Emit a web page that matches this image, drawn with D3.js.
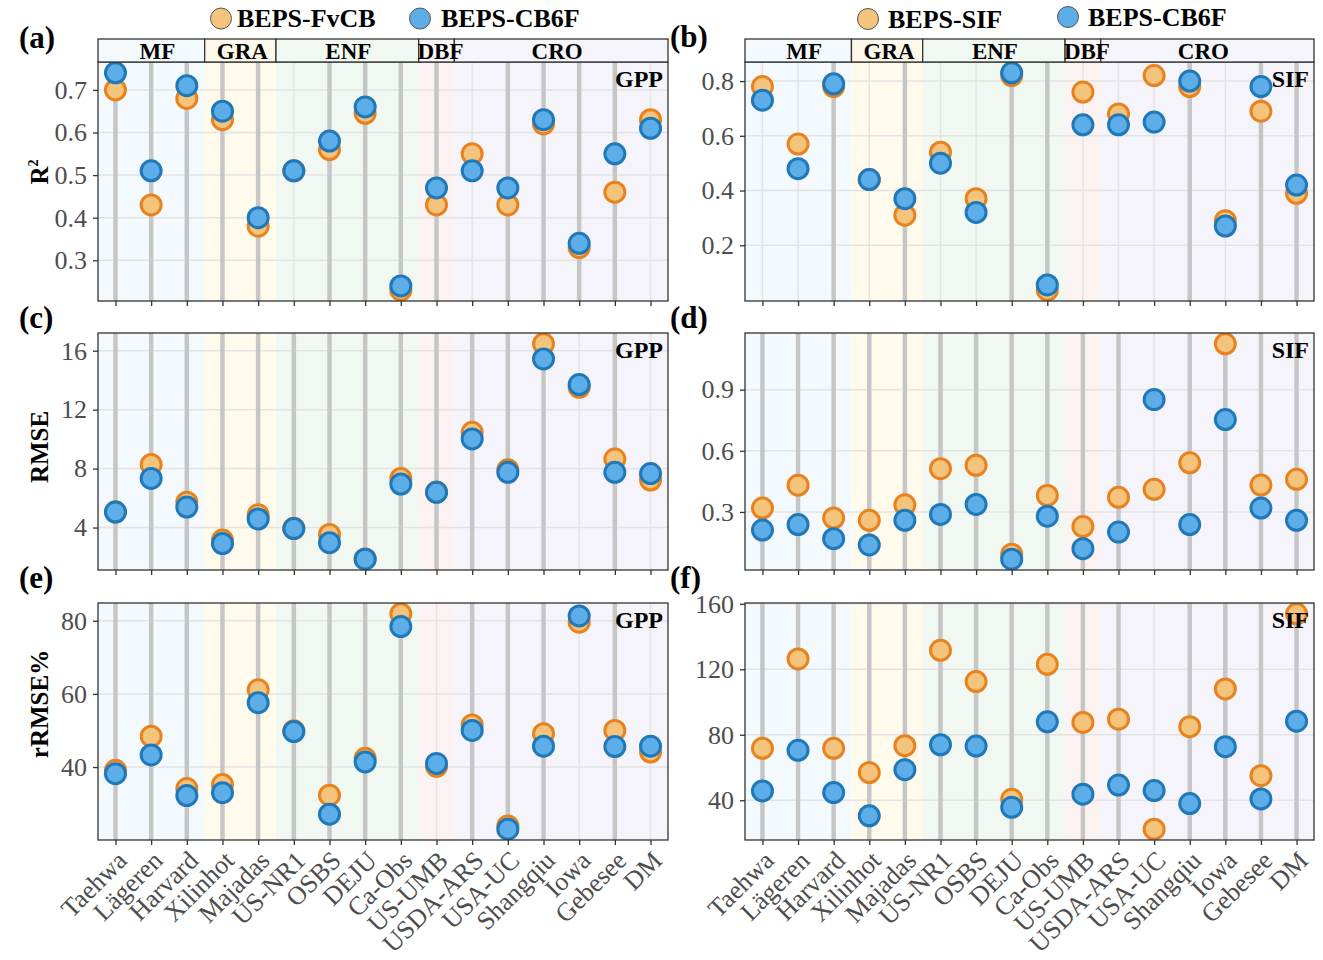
<!DOCTYPE html>
<html><head><meta charset="utf-8">
<script src="https://cdn.jsdelivr.net/npm/d3@7"></script>
<style>body{margin:0;background:#fff}</style>
</head><body>
<svg id="chart" width="1323" height="960"></svg>
<script>
// ---------------- DATA ----------------
const sites = ["Taehwa","Lägeren","Harvard","Xilinhot","Majadas","US-NR1","OSBS","DEJU","Ca-Obs","US-UMB","USDA-ARS","USA-UC","Shangqiu","Iowa","Gebesee","DM"];
const sitePFT = ["MF","MF","MF","GRA","GRA","ENF","ENF","ENF","ENF","DBF","CRO","CRO","CRO","CRO","CRO","CRO"];
const pftGroups = ["MF","GRA","ENF","DBF","CRO"];

// GPP (left column): BEPS-FvCB vs BEPS-CB6F
const gppR2_FvCB   = [0.70,0.43,0.68,0.63,0.38,0.51,0.56,0.645,0.23,0.43,0.55,0.43,0.62,0.33,0.46,0.63];
const gppR2_CB6F   = [0.74,0.51,0.71,0.65,0.40,0.51,0.58,0.66,0.24,0.47,0.51,0.47,0.63,0.34,0.55,0.61];
const gppRMSE_FvCB = [5.07,8.27,5.72,3.15,4.87,3.95,3.53,1.87,7.33,6.41,10.46,7.93,16.47,13.52,8.65,7.22];
const gppRMSE_CB6F = [5.05,7.33,5.39,2.91,4.58,3.93,2.97,1.85,6.95,6.39,10.01,7.75,15.44,13.70,7.75,7.66];
const gppRRMSE_FvCB = [39.1,48.4,34.1,35.2,61.1,49.9,32.3,42.4,81.9,40.2,51.5,23.9,49.1,79.6,50.0,44.1];
const gppRRMSE_CB6F = [38.2,43.3,32.2,33.0,57.6,49.7,27.1,41.4,78.4,41.0,50.0,23.0,45.7,81.3,45.6,45.7];

// SIF (right column): BEPS-SIF vs BEPS-CB6F
const sifR2_SIF    = [0.78,0.57,0.78,0.44,0.31,0.54,0.37,0.82,0.036,0.76,0.68,0.82,0.78,0.29,0.69,0.39];
const sifR2_CB6F   = [0.73,0.48,0.79,0.44,0.37,0.50,0.32,0.83,0.055,0.64,0.64,0.65,0.80,0.27,0.78,0.42];
const sifRMSE_SIF  = [0.319,0.431,0.27,0.259,0.335,0.512,0.529,0.093,0.381,0.228,0.372,0.411,0.541,1.125,0.432,0.46];
const sifRMSE_CB6F = [0.211,0.238,0.169,0.138,0.259,0.288,0.337,0.068,0.279,0.12,0.201,0.851,0.238,0.753,0.319,0.259];
const sifRRMSE_SIF  = [71.7,126.3,71.7,56.9,73.3,131.6,112.5,40.6,123.0,87.5,89.5,22.3,84.9,108.0,55.0,153.9];
const sifRRMSE_CB6F = [45.7,70.5,44.7,30.5,58.7,73.9,73.1,35.7,87.9,43.7,49.3,45.9,38.0,72.7,40.8,88.3];

// tick labels
const ticksGppR2 = [0.3,0.4,0.5,0.6,0.7];
const ticksSifR2 = [0.2,0.4,0.6,0.8];
const ticksGppRMSE = [4,8,12,16];
const ticksSifRMSE = [0.3,0.6,0.9];
const ticksGppRRMSE = [40,60,80];
const ticksSifRRMSE = [40,80,120,160];

const legendLeft = ["BEPS-FvCB","BEPS-CB6F"];
const legendRight = ["BEPS-SIF","BEPS-CB6F"];

// ---------------- STYLE ----------------
const FONT = '"Liberation Serif","Times New Roman",serif';
const bandFill  = {MF:"#f3f9fd",GRA:"#fffaeb",ENF:"#f1f8f1",DBF:"#fdf2f2",CRO:"#f6f4fb"};
const stripFill = {MF:"#f3f9fd",GRA:"#fdf8e9",ENF:"#f1f8f1",DBF:"#fcf6f6",CRO:"#f6f4fb"};
const stripShift = {MF:6,GRA:2,ENF:1,DBF:4,CRO:-4};
const ORANGE_FILL = "#f5c47c", ORANGE_STROKE = "#e8821e";
const BLUE_FILL = "#5dade8", BLUE_STROKE = "#1f78b8";

const svg = d3.select("#chart");
svg.append("rect").attr("width",1323).attr("height",960).attr("fill","#fff");

const COLS = [{x0:98,x1:668},{x0:745,x1:1314}];
const ROWS = [{y0:62,y1:301},{y0:333,y1:570},{y0:603,y1:840}];

function panel(cfg){
  const {x0,x1} = COLS[cfg.col];
  const {y0,y1} = ROWS[cfg.row];
  const x = d3.scalePoint().domain(sites).range([x0,x1]).padding(0.49);
  const all = cfg.base.concat(cfg.cb6f);
  const [mn,mx] = d3.extent(all);
  const pad = (mx-mn)*0.05;
  const y = d3.scaleLinear().domain([mn-pad, mx+pad]).range([y1,y0]);
  const step = x.step();
  const g = svg.append("g");

  g.append("rect").attr("x",x0).attr("y",y0).attr("width",x1-x0).attr("height",y1-y0).attr("fill","#fff");
  const groupExtent = p => {
    const s = sites.filter((d,i)=>sitePFT[i]===p);
    return [Math.max(x0, x(s[0])-step/2), Math.min(x1, x(s[s.length-1])+step/2)];
  };
  pftGroups.forEach(p=>{
    const [l,r] = groupExtent(p);
    g.append("rect").attr("x",l).attr("y",y0).attr("width",r-l).attr("height",y1-y0).attr("fill",bandFill[p]);
  });
  // grid
  cfg.ticks.forEach(t=>{
    g.append("line").attr("x1",x0).attr("x2",x1).attr("y1",y(t)).attr("y2",y(t))
      .attr("stroke","#e3e3e3").attr("stroke-width",1.5);
  });
  sites.forEach(s=>{
    g.append("line").attr("x1",x(s)).attr("x2",x(s)).attr("y1",y0).attr("y2",y1)
      .attr("stroke","#e3e3e3").attr("stroke-width",1.5);
  });
  // highlight lines where CB6F improves
  sites.forEach((s,i)=>{
    const better = cfg.higher ? cfg.cb6f[i] > cfg.base[i] : cfg.cb6f[i] < cfg.base[i];
    if(better){
      g.append("line").attr("x1",x(s)).attr("x2",x(s)).attr("y1",y0).attr("y2",y1)
        .attr("stroke","#c6c6c6").attr("stroke-width",4.5);
    }
  });
  // points
  const clipId = "clip"+cfg.row+"_"+cfg.col;
  svg.append("clipPath").attr("id",clipId).append("rect").attr("x",x0).attr("y",y0).attr("width",x1-x0).attr("height",y1-y0);
  const pg = g.append("g").attr("clip-path",`url(#${clipId})`);
  pg.selectAll("circle.base").data(cfg.base).join("circle").attr("class","base")
    .attr("cx",(d,i)=>x(sites[i])).attr("cy",d=>y(d)).attr("r",10)
    .attr("fill",ORANGE_FILL).attr("stroke",ORANGE_STROKE).attr("stroke-width",3);
  pg.selectAll("circle.cb").data(cfg.cb6f).join("circle").attr("class","cb")
    .attr("cx",(d,i)=>x(sites[i])).attr("cy",d=>y(d)).attr("r",10)
    .attr("fill",BLUE_FILL).attr("stroke",BLUE_STROKE).attr("stroke-width",3);
  // panel variable label
  g.append("text").attr("x",x1-5).attr("y",y0+25).attr("text-anchor","end")
    .attr("font-family",FONT).attr("font-weight","bold").attr("font-size",24).attr("fill","#000")
    .text(cfg.varLabel);
  // border
  g.append("rect").attr("x",x0).attr("y",y0).attr("width",x1-x0).attr("height",y1-y0)
    .attr("fill","none").attr("stroke","#333").attr("stroke-width",1.3);
  // y axis
  const ya = g.append("g").attr("transform",`translate(${x0},0)`)
    .call(d3.axisLeft(y).tickValues(cfg.ticks).tickFormat(cfg.fmt).tickSize(5).tickPadding(6));
  ya.select(".domain").remove();
  ya.selectAll("line").attr("stroke","#333").attr("stroke-width",1.3);
  ya.selectAll("text").attr("font-family",FONT).attr("font-size",26).attr("fill","#4d4d4d");
  // x axis ticks
  const xa = g.append("g").attr("transform",`translate(0,${y1})`)
    .call(d3.axisBottom(x).tickSize(5).tickFormat(""));
  xa.select(".domain").remove();
  xa.selectAll("line").attr("stroke","#333").attr("stroke-width",1.3);
  if(cfg.row===2){
    g.selectAll("text.xl").data(sites).join("text").attr("class","xl")
      .attr("transform",d=>`translate(${x(d)},${y1+9}) rotate(-45)`)
      .attr("text-anchor","end").attr("dy","0.71em")
      .attr("font-family",FONT).attr("font-size",26).attr("fill","#4d4d4d")
      .text(d=>d);
  }
  if(cfg.row===0){
    pftGroups.forEach(p=>{
      const [l,r] = groupExtent(p);
      g.append("rect").attr("x",l).attr("y",39).attr("width",r-l).attr("height",y0-39)
        .attr("fill",stripFill[p]).attr("stroke","#333").attr("stroke-width",1.3);
    });
    pftGroups.forEach(p=>{
      const [l,r] = groupExtent(p);
      g.append("text").attr("x",(l+r)/2 + stripShift[p]).attr("y",58.5).attr("text-anchor","middle")
        .attr("font-family",FONT).attr("font-weight","bold").attr("font-size",23).attr("fill","#000")
        .text(p);
    });
  }
  // panel tag
  g.append("text").attr("x",cfg.col===0?19:670).attr("y",cfg.tagY)
    .attr("font-family",FONT).attr("font-weight","bold").attr("font-size",31).attr("fill","#000")
    .text(cfg.tag);
  // axis title
  if(cfg.title){
    const t = g.append("text").attr("transform",`translate(48,${cfg.titleY}) rotate(-90)`)
      .attr("text-anchor","middle").attr("font-family",FONT).attr("font-weight","bold")
      .attr("font-size",25).attr("fill","#000");
    t.append("tspan").text(cfg.title);
    if(cfg.titleSup){
      t.append("tspan").attr("font-size",14).attr("dy","-0.7em").text(cfg.titleSup);
    }
  }
}

const f1 = d3.format(".1f"), f0 = d3.format("d");
panel({row:0,col:0,base:gppR2_FvCB,cb6f:gppR2_CB6F,ticks:ticksGppR2,fmt:f1,higher:true,varLabel:"GPP",tag:"(a)",tagY:48,title:"R",titleSup:"2",titleY:172});
panel({row:0,col:1,base:sifR2_SIF,cb6f:sifR2_CB6F,ticks:ticksSifR2,fmt:f1,higher:true,varLabel:"SIF",tag:"(b)",tagY:47});
panel({row:1,col:0,base:gppRMSE_FvCB,cb6f:gppRMSE_CB6F,ticks:ticksGppRMSE,fmt:f0,higher:false,varLabel:"GPP",tag:"(c)",tagY:328,title:"RMSE",titleY:447});
panel({row:1,col:1,base:sifRMSE_SIF,cb6f:sifRMSE_CB6F,ticks:ticksSifRMSE,fmt:f1,higher:false,varLabel:"SIF",tag:"(d)",tagY:328});
panel({row:2,col:0,base:gppRRMSE_FvCB,cb6f:gppRRMSE_CB6F,ticks:ticksGppRRMSE,fmt:f0,higher:false,varLabel:"GPP",tag:"(e)",tagY:588,title:"rRMSE%",titleY:704});
panel({row:2,col:1,base:sifRRMSE_SIF,cb6f:sifRRMSE_CB6F,ticks:ticksSifRRMSE,fmt:f0,higher:false,varLabel:"SIF",tag:"(f)",tagY:588});

// legends
function legend(items, pos){
  const fills = [ORANGE_FILL, BLUE_FILL];
  items.forEach((label,i)=>{
    const p = pos[i];
    svg.append("circle").attr("cx",p.cx).attr("cy",p.cy).attr("r",10.5)
      .attr("fill",fills[i]).attr("stroke","#555").attr("stroke-width",1);
    svg.append("text").attr("x",p.tx).attr("y",p.cy+8.5)
      .attr("font-family",FONT).attr("font-weight","bold").attr("font-size",26).attr("fill","#000")
      .text(label);
  });
}
legend(legendLeft,[{cx:221,cy:18.5,tx:237},{cx:420,cy:18.5,tx:441}]);
legend(legendRight,[{cx:868,cy:19,tx:888},{cx:1068,cy:17,tx:1088}]);
</script>
</body></html>
